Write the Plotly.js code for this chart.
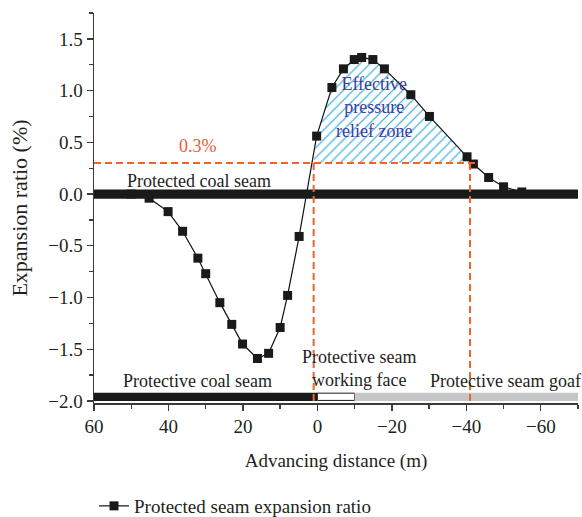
<!DOCTYPE html>
<html>
<head>
<meta charset="utf-8">
<script src="https://cdn.plot.ly/plotly-3.0.1.min.js"></script>
<style>html,body{margin:0;padding:0;background:#fff}#chart{width:582px;height:517px}</style>
</head>
<body>
<div id="chart"></div>
<script>
// ---- data ----
var distance = [50, 45.2, 40.1, 36.2, 32.1, 30.0, 26.2, 23.0, 20.1, 16.1, 13.1, 10.0, 8.0, 4.9,
                0.2, -3.9, -7.0, -9.9, -11.9, -14.9, -18.0, -25.1, -30.1, -40.2, -41.9, -46.0, -50.0, -54.9];
var expansion = [0.0, -0.04, -0.17, -0.36, -0.62, -0.77, -1.05, -1.26, -1.45, -1.59, -1.54, -1.29, -0.98, -0.41,
                 0.56, 1.03, 1.21, 1.30, 1.32, 1.30, 1.21, 0.96, 0.75, 0.36, 0.29, 0.16, 0.07, 0.02];
var thresholdRatio = [0.3];          // 0.3 % expansion ratio
var zoneBounds = [1, -41];           // effective pressure relief zone (m)
var seamLevels = [0, -2];            // protected seam (0), protective seam (-2)
var protectiveSegments = [60, 0, -10, -70]; // coal seam | working face | goaf
var xRange = [60, -70];
var yRange = [-2.02, 1.75];

var FONT = '"Liberation Serif", "Times New Roman", serif';
var ORANGE = '#f0642a';
var thr = thresholdRatio[0];

// hatched zone polygon built from the series
var zx = [zoneBounds[0]], zy = [thr];
for (var i = 0; i < distance.length; i++) {
  if (distance[i] <= zoneBounds[0] && distance[i] >= zoneBounds[1] && expansion[i] >= thr) {
    zx.push(distance[i]); zy.push(expansion[i]);
  }
}
zx.push(zoneBounds[1]); zy.push(thr);
zx.push(zoneBounds[0]); zy.push(thr);

var traces = [
  {
    x: zx, y: zy, mode: 'lines', fill: 'toself', line: {width: 0, color: 'rgba(0,0,0,0)'},
    fillcolor: 'rgba(255,255,255,0)',
    fillpattern: {shape: '/', fgcolor: '#2aa8e0', bgcolor: 'rgba(255,255,255,0)', size: 7, solidity: 0.17},
    showlegend: false, hoverinfo: 'skip'
  },
  {
    x: distance, y: expansion, mode: 'lines+markers', name: 'Protected seam expansion ratio',
    line: {color: '#111', width: 1.2},
    marker: {symbol: 'square', size: 9, color: '#1a1a1a'}
  }
];

var bandH = 0.045;
var shapes = [
  {type: 'rect', xref: 'x', yref: 'y', x0: xRange[0], x1: xRange[1], y0: seamLevels[0] - bandH, y1: seamLevels[0] + bandH,
   fillcolor: '#1a1a1a', line: {width: 0}, layer: 'above'},
  {type: 'rect', xref: 'x', yref: 'y', x0: protectiveSegments[0], x1: protectiveSegments[1], y0: seamLevels[1], y1: seamLevels[1] + 0.08,
   fillcolor: '#1a1a1a', line: {width: 0}, layer: 'above'},
  {type: 'rect', xref: 'x', yref: 'y', x0: protectiveSegments[1], x1: protectiveSegments[2], y0: seamLevels[1] + 0.005, y1: seamLevels[1] + 0.075,
   fillcolor: '#ffffff', line: {width: 1, color: '#1a1a1a'}, layer: 'above'},
  {type: 'rect', xref: 'x', yref: 'y', x0: protectiveSegments[2], x1: protectiveSegments[3], y0: seamLevels[1], y1: seamLevels[1] + 0.08,
   fillcolor: '#c6c7c9', line: {width: 0}, layer: 'above'},
  {type: 'line', xref: 'x', yref: 'y', x0: xRange[0], x1: -43, y0: thr, y1: thr,
   line: {color: ORANGE, width: 2, dash: '7px,4px'}, layer: 'above'},
  {type: 'line', xref: 'x', yref: 'y', x0: zoneBounds[0], x1: zoneBounds[0], y0: thr, y1: seamLevels[1],
   line: {color: ORANGE, width: 2, dash: '7px,4px'}, layer: 'above'},
  {type: 'line', xref: 'x', yref: 'y', x0: zoneBounds[1], x1: zoneBounds[1], y0: thr, y1: seamLevels[1],
   line: {color: ORANGE, width: 2, dash: '7px,4px'}, layer: 'above'}
];

var txt = {family: FONT, size: 18, color: '#231f20'};
var annotations = [
  {x: 31.8, y: 0.13, xref: 'x', yref: 'y', text: 'Protected coal seam', showarrow: false, font: txt},
  {x: 32.1, y: 0.46, xref: 'x', yref: 'y', text: '0.3%', showarrow: false, font: {family: FONT, size: 18, color: '#ee5a3a'}},
  {x: -15.2, y: 0.84, xref: 'x', yref: 'y', text: 'Effective<br>pressure<br>relief zone', showarrow: false,
   font: {family: FONT, size: 18, color: '#3f3ca0'}},
  {x: 32.3, y: -1.81, xref: 'x', yref: 'y', text: 'Protective coal seam', showarrow: false, font: txt},
  {x: -11.3, y: -1.69, xref: 'x', yref: 'y', text: 'Protective seam<br>working face', showarrow: false, font: txt},
  {x: -50.6, y: -1.81, xref: 'x', yref: 'y', text: 'Protective seam goaf', showarrow: false, font: txt}
];

var axisCommon = {
  showgrid: false, zeroline: false, showline: true, linecolor: '#3a3a3a', linewidth: 1.5,
  ticks: 'outside', ticklen: 6, tickwidth: 1.3, tickcolor: '#3a3a3a', automargin: false,
  tickfont: {family: FONT, size: 19, color: '#231f20'}
};

var layout = {
  width: 582, height: 517, autosize: false,
  margin: {l: 94, r: 4, t: 13, b: 114},
  paper_bgcolor: '#fff', plot_bgcolor: '#fff',
  font: {family: FONT, color: '#231f20'},
  xaxis: Object.assign({}, axisCommon, {
    range: xRange, dtick: 20, tick0: 0,
    minor: {dtick: 10, ticklen: 4, ticks: 'outside', tickcolor: '#3a3a3a', tickwidth: 1.3},
    title: {text: 'Advancing distance (m)', font: {family: FONT, size: 19, color: '#231f20'}, standoff: 17}
  }),
  yaxis: Object.assign({}, axisCommon, {
    range: yRange, dtick: 0.5, tick0: 0, tickformat: '.1f',
    minor: {dtick: 0.25, ticklen: 4, ticks: 'outside', tickcolor: '#3a3a3a', tickwidth: 1.3},
    title: {text: 'Expansion ratio (%)', font: {family: FONT, size: 22, color: '#231f20'}, standoff: 14}
  }),
  showlegend: true,
  legend: {x: 0.0, y: 0.058, xref: 'paper', yref: 'container', xanchor: 'left', yanchor: 'top', orientation: 'h',
           font: {family: FONT, size: 19, color: '#231f20'}, bgcolor: 'rgba(0,0,0,0)'},
  shapes: shapes,
  annotations: annotations
};

Plotly.newPlot('chart', traces, layout, {displayModeBar: false, staticPlot: true});
</script>
</body>
</html>
